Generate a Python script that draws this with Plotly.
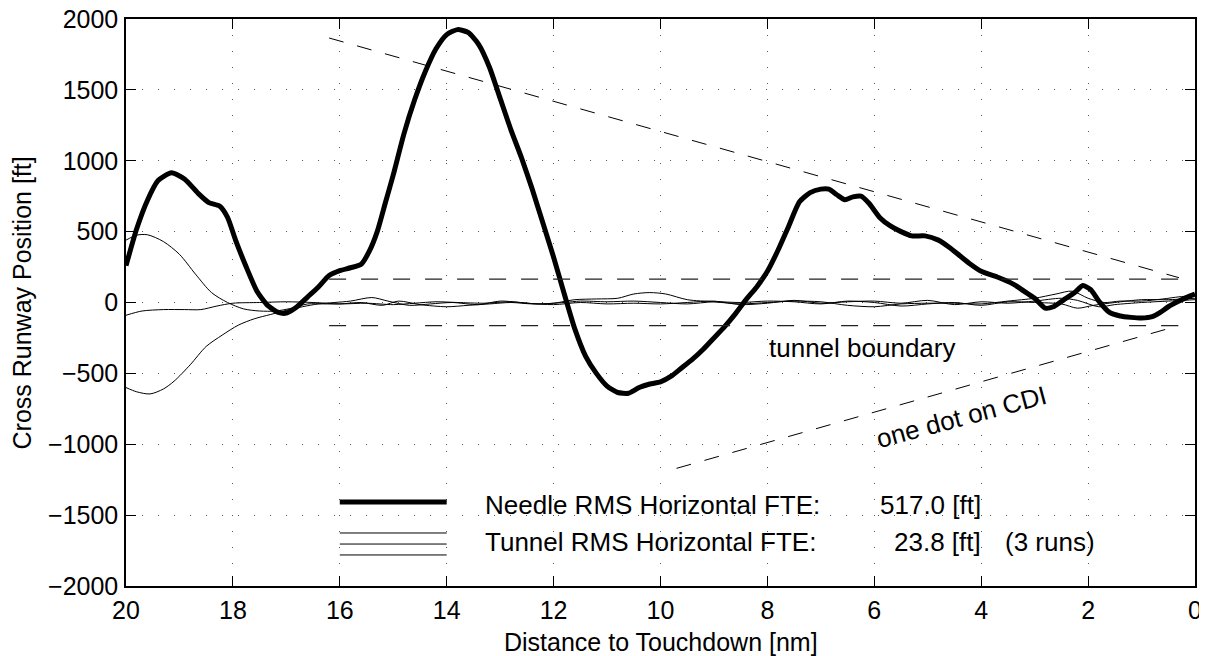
import plotly.graph_objects as go

# ---------------- data ----------------
needle_d = [20, 19.8, 19.6, 19.4, 19.15, 18.9, 18.65, 18.45, 18.25, 18.1, 17.95, 17.75, 17.55, 17.35,
            17.15, 17.0, 16.8, 16.6, 16.4, 16.2, 16.0, 15.8, 15.6, 15.45, 15.3, 15.15, 15.0, 14.8, 14.6,
            14.4, 14.2, 14.0, 13.8, 13.6, 13.4, 13.2, 13.0, 12.8, 12.6, 12.4, 12.2, 12.0, 11.8, 11.6,
            11.4, 11.2, 11.0, 10.8, 10.6, 10.4, 10.2, 10.0, 9.8, 9.6, 9.4, 9.2, 9.0, 8.8, 8.6, 8.4,
            8.2, 8.0, 7.8, 7.6, 7.4, 7.2, 7.0, 6.85, 6.7, 6.55, 6.4, 6.25, 6.1, 5.9, 5.7, 5.5, 5.3,
            5.05, 4.8, 4.6, 4.4, 4.2, 4.0, 3.7, 3.4, 3.2, 3.0, 2.8, 2.65, 2.45, 2.25, 2.1, 1.95, 1.8,
            1.6, 1.4, 1.2, 1.0, 0.8, 0.65, 0.5, 0.3, 0.1, 0]
needle_v = [260, 520, 720, 860, 915, 870, 770, 705, 680, 600, 440, 250, 80, -20,
            -70, -75, -30, 40, 110, 190, 225, 245, 270, 360, 500, 700, 900, 1190, 1430,
            1630, 1790, 1890, 1925, 1905, 1820, 1660, 1440, 1220, 1020, 800, 560, 320, 60, -190,
            -380, -500, -590, -635, -640, -600, -575, -560, -520, -460, -400, -330, -250, -170, -80, 20,
            110, 220, 370, 540, 710, 775, 800, 800, 760, 725, 745, 750, 700, 600, 540, 500, 470,
            470, 440, 390, 330, 270, 220, 180, 130, 80, 30, -40, -30, 20, 70, 120, 90, 10,
            -70, -95, -105, -110, -100, -70, -30, 10, 45, 60]

runA_d = [20, 19.8, 19.6, 19.3, 19.0, 18.7, 18.4, 18.1, 17.8, 17.5, 17.2, 16.9, 16.6, 16.3, 16.0, 15.6,
          15.2, 14.9, 14.5, 14.0, 13.6, 13.2, 12.8, 12.4, 12.0, 11.6, 11.2, 10.8, 10.5, 10.2, 9.9, 9.5,
          9.0, 8.5, 8.0, 7.5, 7.0, 6.5, 6.0, 5.5, 5.0, 4.5, 4.0, 3.5, 3.0, 2.6, 2.3, 2.0, 1.7, 1.4,
          1.0, 0.6, 0.3, 0]
runA_v = [440, 475, 478, 430, 340, 200, 70, 0, -45, -60, -60, -40, -10, -10, -10, 0,
          -20, 10, -15, -30, -20, -10, 0, -10, -5, 20, 25, 30, 60, 70, 60, 20,
          5, -10, 0, 10, 5, -20, -30, -10, -5, -5, -10, 10, 30, 60, 80, 30, 0, 10,
          10, 25, 40, 50]

runB_d = [20, 19.7, 19.3, 18.9, 18.6, 18.3, 18.0, 17.5, 17.0, 16.5, 16.0, 15.5, 15.0, 14.6, 14.2, 13.8,
          13.3, 12.8, 12.3, 11.8, 11.5, 11.0, 10.5, 10.0, 9.5, 9.0, 8.5, 8.0, 7.5, 7.0, 6.5, 6.0,
          5.5, 5.0, 4.5, 4.0, 3.5, 3.0, 2.5, 2.2, 1.9, 1.5, 1.0, 0.5, 0]
runB_v = [-90, -60, -50, -50, -50, -25, -5, 0, 5, 0, -10, -5, -15, -5, 5, 0,
          -5, 5, -10, 0, 10, 5, 10, 0, -10, 5, 0, 10, 5, -10, 10, 0,
          -25, -10, 0, -20, 5, 0, -10, -40, -20, 0, 20, 20, 30]

runC_d = [20, 19.8, 19.55, 19.3, 19.1, 18.8, 18.5, 18.2, 17.9, 17.6, 17.3, 17.0, 16.7, 16.4, 16.1, 15.8,
          15.4, 15.1, 14.7, 14.3, 13.9, 13.4, 13.0, 12.5, 12.0, 11.5, 11.0, 10.5, 10.0, 9.5, 9.0, 8.5,
          8.0, 7.5, 7.0, 6.5, 6.0, 5.5, 5.0, 4.5, 4.0, 3.5, 3.0, 2.5, 2.2, 1.8, 1.5, 1.0, 0.5, 0]
runC_v = [-600, -630, -645, -610, -555, -440, -310, -230, -160, -115, -85, -55, -30, -10, 0, 10,
          35, 10, -20, -10, 0, -15, 10, -5, -15, 0, -10, -5, -10, 0, 10, -15,
          -5, 15, -5, 5, 10, -5, 15, -15, 5, -5, 10, 30, 15, -30, -15, 0, 10, 20]

# reference lines: tunnel boundary and one-dot-on-CDI cone
tunnel_d = [16.2, 0.3]
tunnel_upper = [165, 165]
tunnel_lower = [-163, -163]
cdi_upper_d = [16.2, 0.3]
cdi_upper_v = [1866, 175]
cdi_lower_d = [9.7, 0.3]
cdi_lower_v = [-1170, -163]

# hand-made legend samples
leg_d = [16, 14]
leg_needle_v = [-1407, -1407]
leg_tunnel_v = [[-1626, -1626], [-1704, -1704], [-1781, -1781]]

x_ticks = [20, 18, 16, 14, 12, 10, 8, 6, 4, 2, 0]
y_ticks = [-2000, -1500, -1000, -500, 0, 500, 1000, 1500, 2000]

FONT = "Liberation Sans, Arial, Helvetica, sans-serif"
FS = 26

fig = go.Figure()

for d, v in [(runA_d, runA_v), (runB_d, runB_v), (runC_d, runC_v)]:
    fig.add_trace(go.Scatter(x=d, y=v, mode="lines", line=dict(color="black", width=1, shape="spline", smoothing=0.8),
                             showlegend=False, hoverinfo="skip"))

fig.add_trace(go.Scatter(x=needle_d, y=needle_v, mode="lines",
                         line=dict(color="black", width=5, shape="spline", smoothing=0.6),
                         showlegend=False))

dash_h = "17px,15px"
fig.add_trace(go.Scatter(x=tunnel_d, y=tunnel_upper, mode="lines",
                         line=dict(color="#222", width=1.4, dash=dash_h), showlegend=False))
fig.add_trace(go.Scatter(x=tunnel_d, y=tunnel_lower, mode="lines",
                         line=dict(color="#222", width=1.4, dash=dash_h), showlegend=False))
fig.add_trace(go.Scatter(x=cdi_upper_d, y=cdi_upper_v, mode="lines",
                         line=dict(color="black", width=1, dash="15px,14px"), showlegend=False))
fig.add_trace(go.Scatter(x=cdi_lower_d, y=cdi_lower_v, mode="lines",
                         line=dict(color="black", width=1, dash="15px,14px"), showlegend=False))

fig.add_trace(go.Scatter(x=leg_d, y=leg_needle_v, mode="lines",
                         line=dict(color="black", width=5), showlegend=False))
for lv in leg_tunnel_v:
    fig.add_trace(go.Scatter(x=leg_d, y=lv, mode="lines",
                             line=dict(color="black", width=1), showlegend=False))

txt = dict(family=FONT, size=FS, color="black")
tick_txt = dict(family=FONT, size=25, color="black")
fig.add_annotation(x=13.32, y=-1430, text="Needle RMS Horizontal FTE:", showarrow=False,
                   xanchor="left", yanchor="middle", font=txt)
fig.add_annotation(x=3.97, y=-1430, text="517.0 [ft]", showarrow=False,
                   xanchor="right", yanchor="middle", font=txt)
fig.add_annotation(x=13.32, y=-1690, text="Tunnel RMS Horizontal FTE:", showarrow=False,
                   xanchor="left", yanchor="middle", font=txt)
fig.add_annotation(x=3.97, y=-1690, text="23.8 [ft]", showarrow=False,
                   xanchor="right", yanchor="middle", font=txt)
fig.add_annotation(x=3.59, y=-1690, text="(3 runs)", showarrow=False,
                   xanchor="left", yanchor="middle", font=txt)
fig.add_annotation(x=8.0, y=-318, text="tunnel boundary", showarrow=False,
                   xanchor="left", yanchor="middle", font=txt)
fig.add_annotation(x=4.37, y=-806, text="one dot on CDI", showarrow=False,
                   textangle=-15, xanchor="center", yanchor="middle", font=txt)

# axis titles
fig.add_annotation(x=-0.0973, y=0.5, xref="paper", yref="paper", text="Cross Runway Position [ft]",
                   showarrow=False, textangle=-90, xanchor="center", yanchor="middle", font=tick_txt)
fig.add_annotation(x=0.5, y=-0.0995, xref="paper", yref="paper", text="Distance to Touchdown [nm]",
                   showarrow=False, xanchor="center", yanchor="middle", font=tick_txt)

axis_common = dict(showline=True, linecolor="black", linewidth=1.5, mirror="ticks",
                   ticks="inside", ticklen=10, tickwidth=1, tickcolor="black",
                   showgrid=True, gridcolor="#555", gridwidth=1, griddash="1px,15px",
                   zeroline=False, tickfont=tick_txt, automargin=False,
                   ticklabeloverflow="allow")

fig.update_xaxes(range=[20, 0], tickvals=x_ticks, ticktext=[str(t) for t in x_ticks],
                 ticklabelstandoff=1, **axis_common)
fig.update_yaxes(range=[-2000, 2000], tickvals=y_ticks,
                 ticktext=[("\u2212" + str(-t)) if t < 0 else str(t) for t in y_ticks],
                 ticklabelstandoff=1, **axis_common)

# the page body adds an 8px margin, so the figure is 8px smaller and margins shifted
fig.update_layout(width=1199, height=648, margin=dict(l=118, r=12, t=11, b=70, autoexpand=False),
                  plot_bgcolor="white", paper_bgcolor="white", showlegend=False,
                  font=txt)

fig.write_html("out.html")
